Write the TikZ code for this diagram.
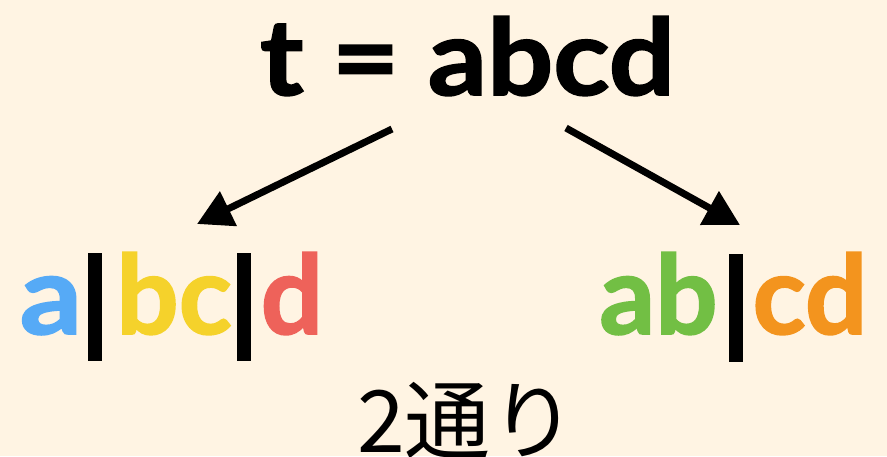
\documentclass[tikz,border=0pt]{standalone}
\usepackage{fontspec}
\setmainfont{Lato}[BoldFeatures={FakeBold=1.6}]
\newfontfamily\jpfont{Noto Sans CJK JP}
\usetikzlibrary{arrows.meta}
\definecolor{paper}{HTML}{FFF4E3}
\definecolor{cblue}{HTML}{56AAF6}
\definecolor{cyellow}{HTML}{F5D22B}
\definecolor{cred}{HTML}{EE625A}
\definecolor{cgreen}{HTML}{72BF44}
\definecolor{corange}{HTML}{F3941E}
\begin{document}
\begin{tikzpicture}[x=1pt,y=-1pt,
  word/.style={inner sep=0pt, anchor=base, font=\fontsize{106}{106}\selectfont\bfseries},
  piece/.style={inner sep=0pt, anchor=base, font=\fontsize{110}{110}\selectfont\bfseries},
  divider/.style={fill=black, inner sep=0pt, minimum width=14pt, minimum height=108pt, anchor=north west},
  link/.style={line width=7pt, -{Triangle[length=35pt,width=37pt]}}]
  % canvas
  \fill[paper] (0,0) rectangle (887,456);
  \useasboundingbox (0,0) rectangle (887,456);
  % heading
  \node[word] (title) at (467.5,95) {\scalebox{1.1}[1]{t = abcd}};
  % left split: a | bc | d
  \node[piece, text=cblue] (la) at (51,334) {\scalebox{1.12}[1]{a}};
  \node[divider] (lbar1) at (88,253) {};
  \node[piece, text=cyellow] (lbc) at (174,334) {bc};
  \node[divider] (lbar2) at (237,253) {};
  \node[piece, text=cred] (ld) at (292,334) {d};
  % right split: ab | cd
  \node[piece, text=cgreen] (rab) at (658.5,334) {ab};
  \node[divider] (rbar) at (729,254) {};
  \node[piece, text=corange] (rcd) at (810,334) {cd};
  % arrows
  \coordinate (ls) at (392,129);
  \coordinate (le) at (197,224);
  \coordinate (rs) at (566,128);
  \coordinate (re) at (740,225);
  \draw[link] (ls) -- (le);
  \draw[link] (rs) -- (re);
  % count
  \node[inner sep=0pt, anchor=base, font=\jpfont\fontsize{86}{86}\selectfont] (count) at (467,452) {2通り};
\end{tikzpicture}
\end{document}
